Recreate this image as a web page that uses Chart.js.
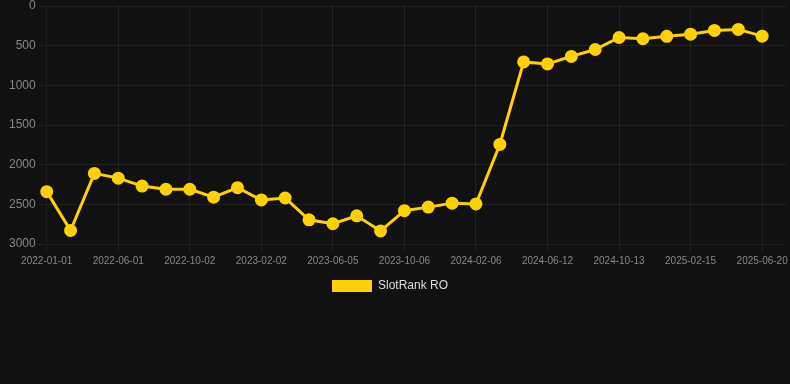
<!DOCTYPE html>
<html>
<head>
<meta charset="utf-8">
<script src="https://cdn.jsdelivr.net/npm/chart.js@4"></script>
<style>
  html, body { margin: 0; padding: 0; background: #111111; }
  #wrap { width: 790px; height: 302px; }
</style>
</head>
<body>
<div id="wrap"><canvas id="chart"></canvas></div>
<script>
// dates on the x axis (only every 3rd one is shown after autoskip)
const dates = [
  '2022-01-01', '2022-02-20', '2022-04-11', '2022-06-01', '2022-07-12', '2022-08-22',
  '2022-10-02', '2022-11-12', '2022-12-23', '2023-02-02', '2023-03-15', '2023-04-25',
  '2023-06-05', '2023-07-16', '2023-08-26', '2023-10-06', '2023-11-16', '2023-12-27',
  '2024-02-06', '2024-03-18', '2024-04-30', '2024-06-12', '2024-07-23', '2024-09-02',
  '2024-10-13', '2024-11-24', '2025-01-04', '2025-02-15', '2025-03-28', '2025-05-09',
  '2025-06-20', '2025-07-31'
];

// rank values (lower is better, axis is reversed)
const rankRO = [
  2340, 2830, 2110, 2170, 2270, 2310, 2310, 2410, 2290, 2445,
  2420, 2695, 2745, 2645, 2835, 2580, 2535, 2485, 2495, 1745,
  705, 730, 635, 548, 397, 413, 382, 355, 308, 295,
  380, null
];

const yTicks = [0, 500, 1000, 1500, 2000, 2500, 3000];

const gold = '#ffd100';
const gridColor = 'rgba(255,255,255,0.07)';
const font = 'Arial, "Liberation Sans", sans-serif';

new Chart(document.getElementById('chart'), {
  type: 'line',
  data: {
    labels: dates,
    datasets: [{
      label: 'SlotRank RO',
      data: rankRO,
      borderColor: gold,
      backgroundColor: gold,
      borderWidth: 3,
      pointRadius: 5,
      pointHoverRadius: 6,
      pointBackgroundColor: gold,
      pointBorderColor: gold,
      tension: 0
    }]
  },
  options: {
    responsive: true,
    maintainAspectRatio: false,
    animation: false,
    layout: { autoPadding: false, padding: 0 },
    plugins: {
      legend: {
        position: 'bottom',
        labels: {
          color: '#dddddd',
          font: { family: font, size: 12 },
          boxWidth: 40,
          boxHeight: 12,
          generateLabels: (chart) => {
            const items = Chart.defaults.plugins.legend.labels.generateLabels(chart);
            // no outline on the box, a little extra room so it sits like the original
            items.forEach(it => { it.lineWidth = 0; it.text = it.text + '   '; });
            return items;
          }
        }
      },
      tooltip: { enabled: false }
    },
    scales: {
      x: {
        grid: { color: gridColor },
        afterFit: (s) => { s.paddingRight = 4; },
        ticks: {
          color: '#888888',
          maxRotation: 0,
          font: { family: font, size: 10 }
        }
      },
      y: {
        reverse: true,
        min: 0,
        max: 3000,
        afterBuildTicks: (axis) => { axis.ticks = yTicks.map(v => ({ value: v })); },
        afterFit: (s) => { s.paddingTop = 6; s.width += 6; },
        grid: { color: gridColor },
        ticks: {
          color: '#888888',
          font: { family: font, size: 12 },
          callback: (v) => String(v)
        }
      }
    }
  }
});
</script>
</body>
</html>
